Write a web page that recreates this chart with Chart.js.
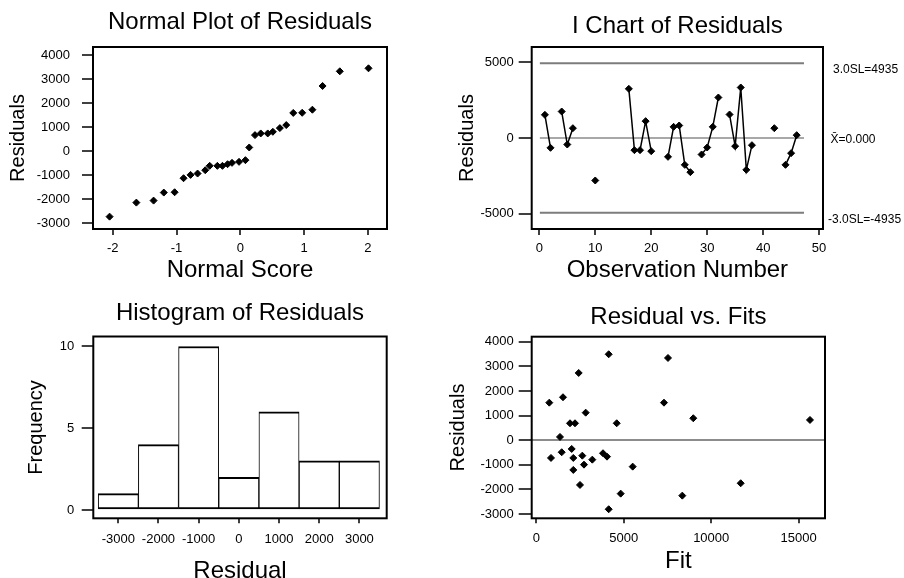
<!DOCTYPE html>
<html>
<head>
<meta charset="utf-8">
<script src="https://cdn.jsdelivr.net/npm/chart.js@4"></script>
<style>
  body { margin: 0; width: 904px; height: 578px; overflow: hidden; background: #fff; position: relative; }
  canvas { position: absolute; }
</style>
</head>
<body>
<canvas id="normal" width="452" height="289" style="left:0;top:0"></canvas>
<canvas id="ichart" width="464" height="289" style="left:440px;top:0"></canvas>
<canvas id="hist" width="452" height="300" style="left:0;top:289px"></canvas>
<canvas id="fits" width="464" height="300" style="left:440px;top:289px"></canvas>
<script>
// normal plot: sorted residuals against normal score
const normalScores = [-2.05, -1.63, -1.36, -1.20, -1.03, -0.89, -0.78, -0.67, -0.55, -0.48, -0.36, -0.28, -0.20, -0.13, -0.02,
  0.08, 0.14, 0.23, 0.32, 0.43, 0.51, 0.62, 0.72, 0.83, 0.97, 1.13, 1.29, 1.56, 2.01]
const normalResiduals = [-2735, -2151, -2067, -1733, -1719, -1135, -996, -940, -801, -620, -620, -620, -551, -495, -453,
  -383, 145, 660, 730, 730, 799, 952, 1078, 1585, 1590, 1718, 2706, 3318, 3443]

// I chart: residual per observation number 1..46 (null = missing)
const iResiduals = [1528, -648, null, 1747, -429, 648, null, null, null, -2802,
  null, null, null, null, null, 3242, -802, -802, 1110, -868,
  null, null, -1242, 736, 824, -1769, -2253, null, -1088, -626,
  736, 2670, null, 1549, -538, 3330, -2099, -473, null, null,
  null, 648, null, -1769, -1000, 187]
const limitValues = [4935, 0, -4935]
const limitTexts = ['3.0SL=4935', 'X\u0304=0.000', '-3.0SL=-4935']
const limitSpan = [0.1, 47.3]

// histogram
const binCenters = [-3000, -2000, -1000, 0, 1000, 2000, 3000]
const binCounts = [1, 4, 10, 2, 6, 3, 3]

// residual vs fits
const fitValues = [743, 1526, 2824, 1927, 2212, 4597, 1355, 2024, 1452, 840, 2115, 2630, 3814, 4043, 3202,
  2727, 2115, 2498, 2424, 4139, 4139, 4825, 5511, 7300, 7529, 8347, 8976, 11686, 15647]
const fitResiduals = [1523, 1743, 1117, 686, 686, 686, 130, -357, -491, -723, -723, -630, -532, -670, -792,
  -995, -1210, -1820, 2730, 3489, -2807, -2173, -1076, 1523, 3339, -2254, 890, -1751, 820]

// tick labels
const normalXTicks = [-2, -1, 0, 1, 2]
const residTicks = [-3000, -2000, -1000, 0, 1000, 2000, 3000, 4000]
const obsTicks = [0, 10, 20, 30, 40, 50]
const iYTicks = [-5000, 0, 5000]
const histXTicks = [-3000, -2000, -1000, 0, 1000, 2000, 3000]
const freqTicks = [0, 5, 10]
const fitTicks = [0, 5000, 10000, 15000]

const FONT = "'Liberation Sans', Arial, Helvetica, sans-serif"
Chart.defaults.font.family = FONT
Chart.defaults.font.size = 13
Chart.defaults.color = '#000'

const frame = {
  id: 'frame',
  afterDraw(chart) {
    const a = chart.chartArea, ctx = chart.ctx
    ctx.save()
    ctx.strokeStyle = '#000'
    ctx.lineWidth = 2
    ctx.strokeRect(a.left, a.top, a.right - a.left, a.bottom - a.top)
    ctx.restore()
  }
}

const limitLabels = {
  id: 'limitLabels',
  afterDraw(chart) {
    const ctx = chart.ctx, y = chart.scales.y, a = chart.chartArea
    const dx = [10, 7.5, 5], dy = [7, 1.5, 7]
    ctx.save()
    ctx.font = '12px ' + FONT
    ctx.fillStyle = '#000'
    ctx.textBaseline = 'middle'
    limitValues.forEach((v, i) => {
      ctx.fillText(limitTexts[i], a.right + dx[i], y.getPixelForValue(v) + dy[i])
    })
    ctx.restore()
  }
}

function axis(o) {
  return {
    type: 'linear',
    min: o.min,
    max: o.max,
    offset: false,
    afterBuildTicks: s => { s.ticks = o.ticks.map(v => ({ value: v })) },
    afterFit: s => {
      if (o.width) s.width = o.width
      if (o.height) s.height = o.height
      s.paddingLeft = s.paddingRight = s.paddingTop = s.paddingBottom = 0
    },
    grid: {
      offset: false,
      drawOnChartArea: !!o.gridColor,
      color: o.gridColor || '#000',
      lineWidth: 2,
      drawTicks: true,
      tickLength: o.tick,
      tickColor: '#000',
      tickWidth: 1.5
    },
    border: { display: false },
    ticks: { padding: o.pad, autoSkip: false, maxRotation: 0, callback: v => String(v) },
    title: { display: true, text: o.title, font: { size: o.titleSize }, padding: o.titlePad }
  }
}

function baseOptions(title, titlePad, right, scales) {
  return {
    responsive: false,
    animation: false,
    layout: { padding: { left: 0, top: 0, bottom: 0, right: right } },
    plugins: {
      legend: { display: false },
      tooltip: { enabled: false },
      title: { display: true, text: title, fullSize: false, font: { size: 24, weight: 'normal' }, padding: titlePad }
    },
    scales: scales
  }
}

const dot = { pointStyle: 'rectRot', pointRadius: 3.5, backgroundColor: '#000', borderColor: '#000', pointBorderWidth: 1 }

// Normal Plot of Residuals
new Chart(document.getElementById('normal'), {
  type: 'scatter',
  data: { datasets: [Object.assign({ data: normalScores.map((x, i) => ({ x: x, y: normalResiduals[i] })) }, dot)] },
  options: baseOptions('Normal Plot of Residuals', { top: 8.3, bottom: 9.9 }, 65, {
    x: axis({ min: -2.31, max: 2.30, ticks: normalXTicks, tick: 6, pad: 5.5, height: 60,
      title: 'Normal Score', titleSize: 24, titlePad: { top: 0, bottom: 4.6 } }),
    y: axis({ min: -3250, max: 4330, ticks: residTicks, tick: 11, pad: 12, width: 93,
      title: 'Residuals', titleSize: 20, titlePad: { top: 6.8, bottom: 0 } })
  }),
  plugins: [frame]
})

// I Chart of Residuals
const limitSets = limitValues.map((v, i) => ({
  data: limitSpan.map(x => ({ x: x, y: v })),
  showLine: true,
  borderColor: i == 1 ? '#a8a8a8' : '#7c7c7c',
  borderWidth: 2,
  pointRadius: 0
}))
new Chart(document.getElementById('ichart'), {
  type: 'scatter',
  data: {
    datasets: [Object.assign({
      data: iResiduals.map((y, i) => ({ x: i + 1, y: y })),
      showLine: true,
      spanGaps: false,
      borderWidth: 1.5
    }, dot)].concat(limitSets)
  },
  options: baseOptions('I Chart of Residuals', { top: 12.3, bottom: 5.9 }, 81, {
    x: axis({ min: -1.36, max: 50.7, ticks: obsTicks, tick: 6, pad: 5.5, height: 60,
      title: 'Observation Number', titleSize: 24, titlePad: { top: 0, bottom: 4.6 } }),
    y: axis({ min: -6000, max: 6000, ticks: iYTicks, tick: 13, pad: 5, width: 91.7,
      title: 'Residuals', titleSize: 20, titlePad: { top: 15.5, bottom: 0 } })
  }),
  plugins: [frame, limitLabels]
})

// Histogram of Residuals
new Chart(document.getElementById('hist'), {
  type: 'bar',
  data: {
    datasets: [{
      data: binCenters.map((x, i) => ({ x: x, y: binCounts[i] })),
      backgroundColor: '#fff',
      borderColor: '#000',
      borderWidth: { top: 2, bottom: 2, left: 1, right: 1 },
      borderSkipped: false,
      barPercentage: 1,
      categoryPercentage: 1
    }]
  },
  options: baseOptions('Histogram of Residuals', { top: 10, bottom: 8.7 }, 65.3, {
    x: axis({ min: -3622, max: 3680, ticks: histXTicks, tick: 5, pad: 8, height: 70.7,
      title: 'Residual', titleSize: 24, titlePad: { top: 0, bottom: 3 } }),
    y: axis({ min: -0.51, max: 10.61, ticks: freqTicks, tick: 11.6, pad: 7.4, width: 93.3,
      title: 'Frequency', titleSize: 20, titlePad: { top: 24, bottom: 0 } })
  }),
  plugins: [frame]
})

// Residual vs. Fits
new Chart(document.getElementById('fits'), {
  type: 'scatter',
  data: { datasets: [Object.assign({ data: fitValues.map((x, i) => ({ x: x, y: fitResiduals[i] })) }, dot)] },
  options: baseOptions('Residual vs. Fits', { top: 14, bottom: 4.9 }, 79, {
    x: axis({ min: -263, max: 16506, ticks: fitTicks, tick: 5, pad: 7.2, height: 70.7,
      title: 'Fit', titleSize: 24, titlePad: { top: 0, bottom: 12.9 } }),
    y: axis({ min: -3175, max: 4203, ticks: residTicks, tick: 13, pad: 5, width: 91.7,
      title: 'Residuals', titleSize: 20, titlePad: { top: 6.3, bottom: 0 },
      gridColor: c => c.tick && c.tick.value === 0 ? '#8c8c8c' : 'rgba(0,0,0,0)' })
  }),
  plugins: [frame]
})
</script>
</body>
</html>
